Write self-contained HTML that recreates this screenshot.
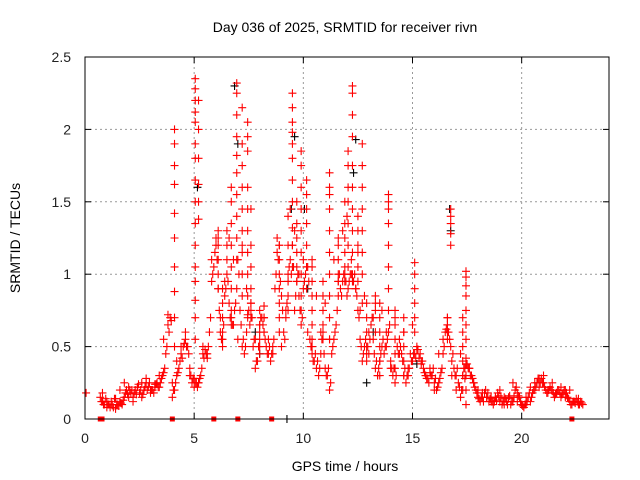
<!DOCTYPE html>
<html><head><meta charset="utf-8"><style>
body{margin:0;background:#fff;}
svg{display:block;font-family:"Liberation Sans",sans-serif;}
</style></head><body>
<svg id="chart" width="640" height="480">
<rect x="0" y="0" width="640" height="480" fill="#fff"/>
<g id="grid"></g>
<g id="black"></g>
<g id="red"></g>
<rect x="85" y="57" width="524" height="362" fill="none" stroke="#000" stroke-width="1"/>
<g id="ticks"></g>
<text x="345" y="32" font-size="14" text-anchor="middle" fill="#000">Day 036 of 2025, SRMTID for receiver rivn</text>
<text x="345" y="471" font-size="14" text-anchor="middle" fill="#000">GPS time / hours</text>
<text x="20" y="238" font-size="14" text-anchor="middle" fill="#000" transform="rotate(-90 20 238)">SRMTID / TECUs</text>
</svg>
<script>
const xTicks=[0,5,10,15,20];
const yTicks=[0,0.5,1,1.5,2,2.5];
const yTickLabels=["0","0.5","1","1.5","2","2.5"];
const trackAStart=0.7, trackAStep=0.1;
const trackA=[.15,.12,.1,.08,.1,.12,.08,.07,.1,.12,
.1,.15,.2,.22,.18,.15,.2,.22,.18,.15,
.2,.25,.22,.18,.2,.22,.25,.22,.28,.32,
.45,.65,.7,.15,.2,.3,.35,.45,.5,.55,
.5,.35,.25,.22,.25,.25,.3,.45,.48,.42,
.6,.95,1.05,1.25,.9,.6,.55,.85,1.0,.8,
.7,.65,.8,1.1,.75,.5,.45,.6,.75,.8,
.5,.35,.4,.65,.7,.6,.5,.45,.4,.45,
.9,1.15,1.2,.85,.6,.7,.95,1.1,1.2,.75,
.95,.85,.65,.9,1.0,1.05,.55,.45,.4,.35,
.3,.6,.55,.35,.3,.2,.45,.55,.65,.95,
.9,.95,1.0,.85,.95,1.0,.95,.9,.75,.55,
.4,.5,.45,.6,.65,.55,.35,.3,.4,.5,
.45,.5,.6,.4,.3,.25,.5,.55,.45,.3,
.25,.3,.45,.4,.45,.5,.42,.38,.35,.3,
.28,.32,.3,.25,.2,.25,.32,.45,.6,.65,
.55,.4,.35,.3,.25,.15,.3,.35,.38,.35,
.3,.25,.2,.15,.12,.15,.18,.15,.12,.15,
.1,.15,.18,.12,.1,.15,.12,.14,.1,.12,
.2,.18,.15,.1,.08,.1,.15,.12,.18,.2,
.25,.22,.28,.25,.2,.18,.22,.2,.15,.18,
.2,.15,.18,.2,.15,.12,.1,.12,.14,.1,
.12,.1];
const trackBStart=0.8, trackBStep=0.2;
const trackB=[.18,.12,.1,.14,.2,.25,.15,.12,.22,.25,
.28,.2,.24,.3,.55,.72,.25,.4,.5,.6,
.3,.28,.25,.5,.45,1.1,1.2,.7,.95,1.25,
1.1,.55,1.2,.9,.75,.55,.45,.7,.55,.5,
1.25,.5,.75,1.45,1.3,1.0,1.1,.6,.5,.85,
.45,.8,.55,1.1,1.25,1.3,1.4,1.1,.9,.75,
.85,.45,.7,.3,.75,.6,.35,.7,.45,.6,
.35,.65,.48,.4,.3,.35,.2,.45,.55,.7,
.3,.2,.45,.28,.35,.25,.2,.18,.15,.12,
.15,.2,.1,.15,.25,.12,.1,.15,.22,.25,
.28,.3,.2,.25,.18,.22,.15,.2,.12,.14];
const trackCStart=0.75, trackCStep=0.1;
const trackC=[.12,.1,.14,.1,.08,.1,.14,.1,.09,.11,
.13,.18,.17,.2,.2,.18,.17,.24,.2,.17,
.22,.2,.25,.2,.18,.24,.22,.25,.3,.35,
.5,.6,.68,.2,.25,.32,.4,.42,.52,.5,
.45,.3,.28,.25,.22,.28,.35,.42,.45,.5,
.7,1.0,1.15,1.1,.75,.55,.65,.9,.95,.7,
.65,.75,.9,1.0,.65,.55,.5,.7,.65,.7,
.55,.4,.5,.7,.65,.55,.45,.5,.45,.55,
1.0,1.1,.95,.75,.55,.8,1.05,1.0,1.05,.85,
1.0,.75,.7,.95,1.05,.95,.5,.4,.45,.4,
.35,.55,.45,.3,.35,.25,.5,.6,.75,1.0,
.85,1.0,.95,.9,1.0,.95,1.0,.85,.7,.5,
.45,.55,.5,.55,.7,.45,.4,.35,.45,.55,
.5,.55,.65,.35,.35,.3,.45,.5,.4,.35,
.3,.35,.4,.45,.42,.48,.45,.4,.32,.28,
.25,.3,.35,.28,.22,.28,.35,.5,.62,.6,
.5,.45,.3,.35,.22,.2,.35,.38,.35,.3,
.28,.22,.18,.14,.15,.12,.2,.18,.14,.12,
.12,.13,.16,.15,.12,.14,.1,.16,.12,.15,
.22,.16,.12,.09,.1,.12,.18,.15,.2,.22,
.28,.25,.25,.22,.18,.2,.2,.18,.17,.2,
.18,.17,.2,.18,.14,.1,.12,.11,.12,.1,
.11];
const spikeTimes=[4.1,5.05,5.2,6.95,7.2,7.45,6.5,9.5,9.9,10.15,11.2,12.25,12.05,12.7,13.9,15.1,16.75,17.45,13.3,8.2,
6.1,6.3,6.7,7.6,8.0,8.9,9.3,9.7,10.4,10.9,11.6,11.9,12.5,12.9,13.5,14.2,14.6,16.6,17.3];
const spikeValues=[
[2.0,1.9,1.75,1.62,1.42,1.25,1.05,0.88,0.7,0.5],
[2.35,2.28,2.2,2.12,2.05,1.9,1.8,1.65,1.5,1.35,1.2,1.05,0.95,0.82,0.7,0.55],
[2.2,2.0,1.8,1.62,1.5,1.38],
[2.32,2.25,2.1,1.95,1.82,1.7,1.55,1.4,1.25,1.1],
[2.15,1.9,1.75,1.6,1.45,1.3,1.15,1.0,0.85],
[2.05,1.95,1.85,1.6,1.45,1.3,1.15,1.0,0.85,0.72],
[1.3,1.2,1.1],
[2.25,2.15,2.05,1.98,1.9,1.8,1.65,1.5,1.32,1.2,1.05],
[1.85,1.75,1.6,1.45,1.3,1.15,1.0,0.85,0.75],
[1.65,1.55,1.45,1.35,1.2,1.05,0.9],
[1.7,1.6,1.55,1.45,1.3,1.15,1.0,0.85,0.7,0.55],
[2.3,2.25,2.1,1.95,1.75,1.6,1.45,1.3,1.15,1.0],
[1.85,1.75,1.6,1.5,1.35,1.2,1.05],
[1.9,1.75,1.6,1.45,1.3,1.15,1.0,0.8],
[1.55,1.5,1.45,1.35,1.2,1.05,0.9,0.75,0.6],
[1.08,1.0,0.9,0.8,0.7,0.6],
[1.45,1.4,1.35,1.28,1.2],
[1.02,0.98,0.92,0.85,0.75,0.65,0.55,0.42,0.3,0.2,0.1],
[0.85,0.8,0.75,0.6],
[0.78,0.7,0.6],
[1.3,1.25,1.2,1.1,1.0,0.9],
[0.9,0.8,0.7,0.6,0.5],
[1.6,1.5,1.35,1.2,1.05,0.9,0.75,0.65],
[1.45,1.2,1.05,0.9,0.8,0.7],
[0.75,0.65,0.6,0.55,0.5],
[1.2,1.1,1.0,0.9,0.8,0.7,0.6],
[1.4,1.2,1.0,0.95,0.85,0.75],
[1.5,1.35,1.25,1.15,1.05,0.95],
[1.1,1.05,0.95,0.85,0.75,0.65,0.55],
[0.95,0.85,0.75,0.65,0.6],
[1.2,1.1,1.0,0.95,0.85],
[1.5,1.35,1.25,1.15,1.05,0.95],
[1.4,1.3,1.2,1.15,1.05,0.95],
[0.8,0.7,0.6,0.5,0.4],
[0.8,0.7,0.6,0.5,0.4,0.3],
[0.75,0.65,0.55,0.45,0.35],
[0.7,0.6,0.5,0.4,0.3],
[0.7,0.65,0.6,0.55],
[0.7,0.6,0.5,0.4,0.3,0.2]];
const extraT=[0.05];
const extraV=[0.18];
const zeroTimes=[0.7,0.78,4.0,5.9,7.0,8.55,22.3];
const blackT=[5.15,6.85,7.0,9.45,9.6,10.05,12.4,12.3,16.7,16.75,13.2,8.0,12.9,15.2,10.2,7.8,9.25];
const blackV=[1.6,2.3,1.9,1.45,1.95,1.45,1.93,1.7,1.45,1.3,0.6,0.45,0.25,0.38,0.9,0.6,0];

const X0=85,X1=609,Y0=419,Y1=57,XMAX=24,YMAX=2.5;
function xs(t){return X0+(X1-X0)*t/XMAX;}
function ys(v){return Y0-(Y0-Y1)*v/YMAX;}
const NS="http://www.w3.org/2000/svg";
function mk(tag,attrs,parent){const e=document.createElementNS(NS,tag);for(const k in attrs)e.setAttribute(k,attrs[k]);parent.appendChild(e);return e;}
const grid=document.getElementById('grid'),ticks=document.getElementById('ticks');
xTicks.forEach(t=>{
  if(t>0){const g=mk('line',{x1:xs(t),x2:xs(t),y1:Y1,y2:Y0,stroke:'#999','stroke-dasharray':'2,3'},grid);
  
  }
  const a=mk('line',{x1:xs(t),x2:xs(t),y1:Y0,y2:Y0-6,stroke:'#000'},ticks);
  
  
  const b=mk('line',{x1:xs(t),x2:xs(t),y1:Y1,y2:Y1+6,stroke:'#000'},ticks);
  
  
  const l=mk('text',{x:xs(t),y:Y0+24,'font-size':14,'text-anchor':'middle',fill:'#222'},ticks);l.textContent=t;
  
  
});
yTicks.forEach((v,i)=>{
  if(v>0&&v<YMAX){const g=mk('line',{x1:X0,x2:X1,y1:ys(v),y2:ys(v),stroke:'#999','stroke-dasharray':'2,3'},grid);
  
  }
  const a=mk('line',{x1:X0,x2:X0+6,y1:ys(v),y2:ys(v),stroke:'#000'},ticks);
  
  
  const b=mk('line',{x1:X1-6,x2:X1,y1:ys(v),y2:ys(v),stroke:'#000'},ticks);
  
  
  const l=mk('text',{x:X0-14,y:ys(v)+5,'font-size':14,'text-anchor':'end',fill:'#222'},ticks);l.textContent=yTickLabels[i];
  
  
});
function cross(t,v,col,parent){
  const x=xs(t),y=ys(v);
  const p=mk('path',{d:`M${x-4},${y}H${x+4}M${x},${y-4}V${y+4}`,stroke:col,'stroke-width':1.1,fill:'none'},parent);
  
  
}
const black=document.getElementById('black'),red=document.getElementById('red');
blackT.forEach((t,i)=>cross(t,blackV[i],'#000',black));
trackA.forEach((v,i)=>cross(trackAStart+i*trackAStep,v,'#f00',red));
trackB.forEach((v,i)=>cross(trackBStart+i*trackBStep,v,'#f00',red));
trackC.forEach((v,i)=>cross(trackCStart+i*trackCStep,v,'#f00',red));
spikeTimes.forEach((t,i)=>spikeValues[i].forEach(v=>cross(t,v,'#f00',red)));
extraT.forEach((t,i)=>cross(t,extraV[i],'#f00',red));
zeroTimes.forEach(t=>{
  const r=mk('rect',{x:xs(t)-2.5,y:ys(0)-2.5,width:5,height:5,fill:'#f00'},red);
  
  
});
</script>
</body></html>
